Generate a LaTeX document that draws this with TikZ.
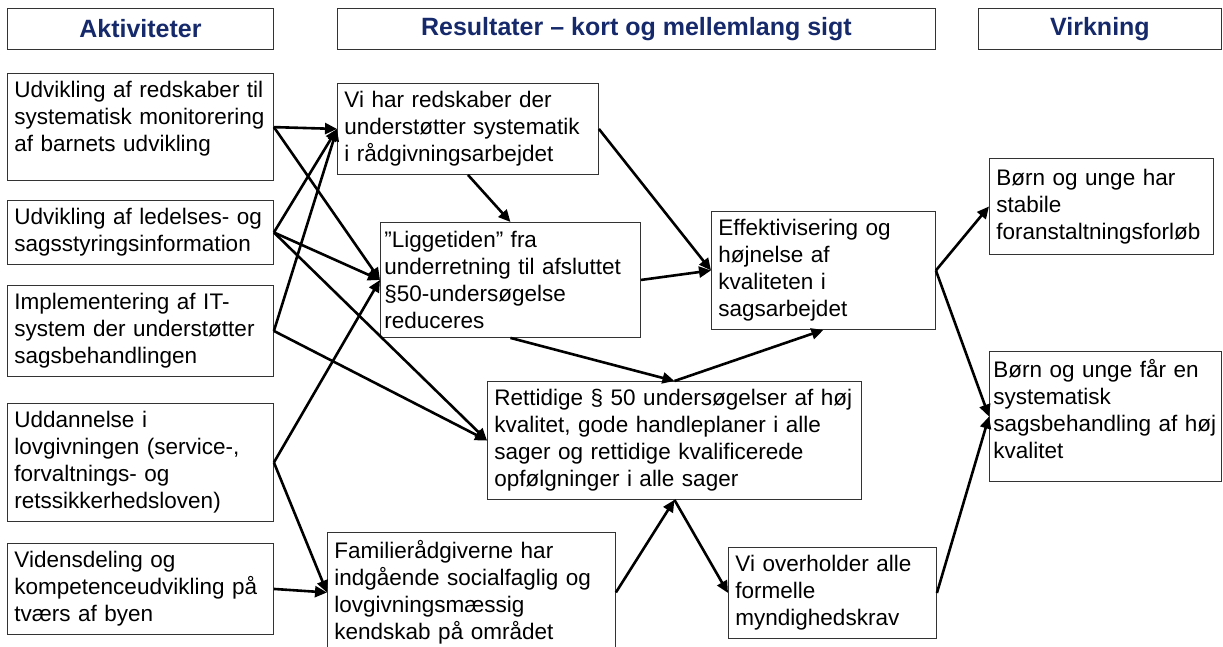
\documentclass[tikz,border=0pt]{standalone}
\usepackage{fontspec}
\setmainfont{Liberation Sans}
\usetikzlibrary{arrows.meta}
\definecolor{headblue}{HTML}{15296B}
\begin{document}
\begin{tikzpicture}[x=1pt,y=-1pt,
  box/.style={draw=black!80,line width=0.9pt,anchor=north west,align=left,inner xsep=7pt,inner ysep=8pt,font=\fontsize{22.5}{27}\selectfont},
  head/.style={draw=black!80,line width=0.9pt,anchor=north west,minimum height=41pt,inner sep=0pt,text=headblue,font=\bfseries\fontsize{25}{28}\selectfont},
  arr/.style={-{Triangle[length=12pt,width=11pt]},line width=2.6pt}]
\useasboundingbox (0,0) rectangle (1223,646);
\node[head,minimum width=266pt] (HA) at (7,8) {Aktiviteter};
\node[head,minimum width=598pt] (HR) at (337,8) {Resultater – kort og mellemlang sigt};
\node[head,minimum width=243pt] (HV) at (978,8) {Virkning};
\node[box,text width=252pt,minimum height=107pt,text depth=75pt] (A1) at (7,73) {Udvikling af redskaber til\\systematisk monitorering\\af barnets udvikling};
\node[box,text width=252pt,minimum height=62pt] (A2) at (7,200) {Udvikling af ledelses- og\\sagsstyringsinformation};
\node[box,text width=252pt,minimum height=89pt] (A3) at (7,285) {Implementering af IT-\\system der understøtter\\sagsbehandlingen};
\node[box,text width=252pt,minimum height=118pt] (A4) at (7,403) {Uddannelse i\\lovgivningen (service-,\\forvaltnings- og\\retssikkerhedsloven)};
\node[box,text width=252pt,minimum height=89pt] (A5) at (7,543) {Vidensdeling og\\kompetenceudvikling på\\tværs af byen};
\node[box,text width=247pt,minimum height=88pt] (R1) at (337,83) {Vi har redskaber der\\understøtter systematik\\i rådgivningsarbejdet};
\node[box,text width=252pt,inner xsep=4pt,minimum height=115pt] (R2) at (380,222) {”Liggetiden” fra\\underretning til afsluttet\\§50-undersøgelse\\reduceres};
\node[box,text width=210pt,minimum height=116pt] (R3) at (711,211) {Effektivisering og\\højnelse af\\kvaliteten i\\sagsarbejdet};
\node[box,text width=360pt,minimum height=116pt] (R4) at (487,381) {Rettidige § 50 undersøgelser af høj\\kvalitet, gode handleplaner i alle\\sager og rettidige kvalificerede\\opfølgninger i alle sager};
\node[box,text width=274pt,minimum height=120pt] (R5) at (327,532) {Familierådgiverne har\\indgående socialfaglig og\\lovgivningsmæssig\\kendskab på området};
\node[box,text width=194pt,minimum height=90pt] (R6) at (728,547) {Vi overholder alle\\formelle\\myndighedskrav};
\node[box,text width=210pt,minimum height=96pt] (V1) at (989,158) {Børn og unge har\\stabile\\foranstaltningsforløb};
\node[box,text width=224pt,inner xsep=4pt,minimum height=128pt,text depth=96pt] (V2) at (989,351) {Børn og unge får en\\systematisk\\sagsbehandling af høj\\kvalitet};
\draw[arr] (A1.east) -- (R1.west);
\draw[arr] (A1.east) -- (R2.west);
\draw[arr] (A2.east) -- (R1.west);
\draw[arr] (A2.east) -- (R2.west);
\draw[arr] (A2.east) -- (R4.west);
\draw[arr] (A3.east) -- (R1.west);
\draw[arr] (A3.east) -- (R4.west);
\draw[arr] (A4.east) -- (R2.west);
\draw[arr] (A4.east) -- (R5.west);
\draw[arr] (A5.east) -- (R5.west);
\draw[arr] (R1.south) -- (R2.north);
\draw[arr] (R1.east) -- (R3.west);
\draw[arr] (R2.east) -- (R3.west);
\draw[arr] (R2.south) -- (R4.north);
\draw[arr] (R4.north) -- (R3.south);
\draw[arr] (R5.east) -- (R4.south);
\draw[arr] (R4.south) -- (R6.west);
\draw[arr] (R3.east) -- (V1.west);
\draw[arr] (R3.east) -- (V2.west);
\draw[arr] (R6.east) -- (V2.west);
\end{tikzpicture}
\end{document}
